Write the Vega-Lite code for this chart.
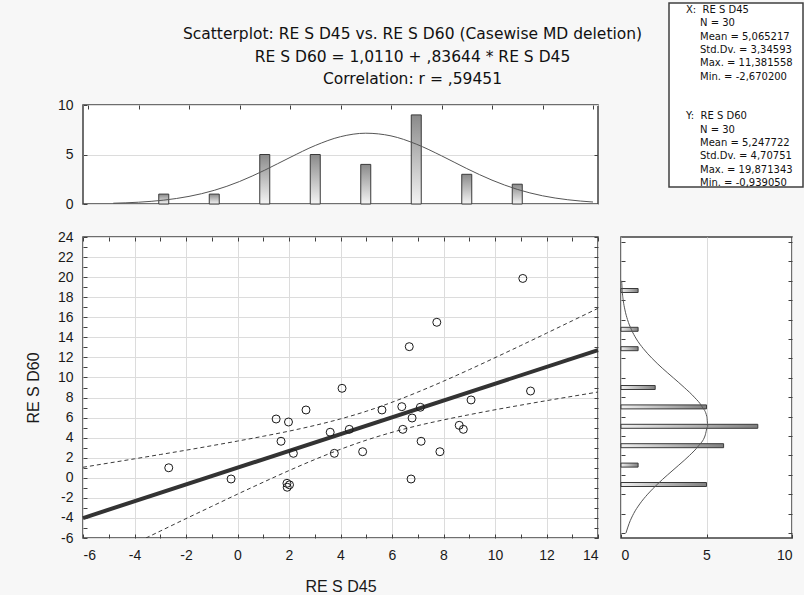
{
  "$schema": "https://vega.github.io/schema/vega-lite/v6.json",
  "background": "#f7f7f7",
  "padding": {"left": 24, "top": 2, "right": 0, "bottom": 0},
  "config": {
    "view": {"stroke": "#404040", "strokeWidth": 1.5, "fill": "white"},
    "font": "Liberation Sans",
    "axis": {"domain": false, "labelFont": "Liberation Sans", "labelFontSize": 14, "labelColor": "#1a1a1a", "titleFont": "Liberation Sans", "titleFontSize": 16, "titleFontWeight": "normal", "titleColor": "#1a1a1a", "tickColor": "#404040", "gridColor": "#dcdcdc", "gridWidth": 1}
  },
  "datasets": {
    "ttl": [
      {"line": 0, "t": "Scatterplot: RE S D45 vs. RE S D60 (Casewise MD deletion)"},
      {"line": 1, "t": "RE S D60 = 1,0110 + ,83644 * RE S D45"},
      {"line": 2, "t": "Correlation: r = ,59451"}
    ],
    "pts": [
      {"x": -2.67, "y": 1.00}, {"x": -0.25, "y": -0.12}, {"x": 1.50, "y": 5.86}, {"x": 1.69, "y": 3.64},
      {"x": 1.92, "y": -0.55}, {"x": 1.93, "y": -0.94}, {"x": 1.98, "y": 5.56}, {"x": 2.02, "y": -0.70},
      {"x": 2.17, "y": 2.44}, {"x": 2.66, "y": 6.76}, {"x": 3.60, "y": 4.54}, {"x": 3.76, "y": 2.44},
      {"x": 4.06, "y": 8.92}, {"x": 4.34, "y": 4.83}, {"x": 4.86, "y": 2.60}, {"x": 5.61, "y": 6.76},
      {"x": 6.38, "y": 7.09}, {"x": 6.42, "y": 4.83}, {"x": 6.67, "y": 13.07}, {"x": 6.74, "y": -0.12},
      {"x": 6.78, "y": 5.96}, {"x": 7.10, "y": 7.03}, {"x": 7.13, "y": 3.64}, {"x": 7.74, "y": 15.50},
      {"x": 7.86, "y": 2.60}, {"x": 8.61, "y": 5.23}, {"x": 8.77, "y": 4.83}, {"x": 9.07, "y": 7.76},
      {"x": 11.08, "y": 19.87}, {"x": 11.38, "y": 8.65}
    ],
    "reg": [{"x": -6, "y": -4.01}, {"x": 14, "y": 12.72}],
    "band": [
      {"x": -6, "lo": -9.06, "hi": 1.05}, {"x": -5, "lo": -7.81, "hi": 1.47}, {"x": -4, "lo": -6.56, "hi": 1.89},
      {"x": -3, "lo": -5.31, "hi": 2.32}, {"x": -2, "lo": -4.07, "hi": 2.75}, {"x": -1, "lo": -2.85, "hi": 3.20},
      {"x": 0, "lo": -1.63, "hi": 3.66}, {"x": 1, "lo": -0.44, "hi": 4.14}, {"x": 2, "lo": 0.72, "hi": 4.65},
      {"x": 3, "lo": 1.82, "hi": 5.22}, {"x": 4, "lo": 2.84, "hi": 5.87}, {"x": 5, "lo": 3.75, "hi": 6.63},
      {"x": 6, "lo": 4.53, "hi": 7.53}, {"x": 7, "lo": 5.20, "hi": 8.54}, {"x": 8, "lo": 5.77, "hi": 9.63},
      {"x": 9, "lo": 6.29, "hi": 10.78}, {"x": 10, "lo": 6.78, "hi": 11.97}, {"x": 11, "lo": 7.24, "hi": 13.18},
      {"x": 12, "lo": 7.69, "hi": 14.41}, {"x": 13, "lo": 8.12, "hi": 15.65}, {"x": 14, "lo": 8.55, "hi": 16.89}
    ],
    "hx": [
      {"mid": -3, "count": 1}, {"mid": -1, "count": 1}, {"mid": 1, "count": 5}, {"mid": 3, "count": 5},
      {"mid": 5, "count": 4}, {"mid": 7, "count": 9}, {"mid": 9, "count": 3}, {"mid": 11, "count": 2}
    ],
    "nx": [
      {"x": -5, "d": 0.08}, {"x": -4, "d": 0.18}, {"x": -3, "d": 0.39}, {"x": -2, "d": 0.77}, {"x": -1, "d": 1.38},
      {"x": 0, "d": 2.27}, {"x": 1, "d": 3.42}, {"x": 2, "d": 4.70}, {"x": 3, "d": 5.91}, {"x": 4, "d": 6.80},
      {"x": 5, "d": 7.15}, {"x": 6, "d": 6.88}, {"x": 7, "d": 6.05}, {"x": 8, "d": 4.87}, {"x": 9, "d": 3.58},
      {"x": 10, "d": 2.41}, {"x": 11, "d": 1.48}, {"x": 12, "d": 0.83}, {"x": 13, "d": 0.43}, {"x": 14, "d": 0.20}
    ],
    "hy": [
      {"mid": 19, "count": 1}, {"mid": 15, "count": 1}, {"mid": 13, "count": 1}, {"mid": 9, "count": 2},
      {"mid": 7, "count": 5}, {"mid": 5, "count": 8}, {"mid": 3, "count": 6}, {"mid": 1, "count": 1}, {"mid": -1, "count": 5}
    ],
    "ny": [
      {"y": -6, "d": 0.29}, {"y": -5, "d": 0.48}, {"y": -4, "d": 0.74}, {"y": -3, "d": 1.10}, {"y": -2, "d": 1.56},
      {"y": -1, "d": 2.11}, {"y": 0, "d": 2.73}, {"y": 1, "d": 3.38}, {"y": 2, "d": 4.01}, {"y": 3, "d": 4.54},
      {"y": 4, "d": 4.91}, {"y": 5, "d": 5.08}, {"y": 6, "d": 5.02}, {"y": 7, "d": 4.75}, {"y": 8, "d": 4.29},
      {"y": 9, "d": 3.70}, {"y": 10, "d": 3.06}, {"y": 11, "d": 2.41}, {"y": 12, "d": 1.82}, {"y": 13, "d": 1.31},
      {"y": 14, "d": 0.90}, {"y": 15, "d": 0.60}, {"y": 16, "d": 0.38}, {"y": 17, "d": 0.23}, {"y": 18, "d": 0.13},
      {"y": 19, "d": 0.07}, {"y": 20, "d": 0.04}
    ],
    "stats": [
      {"row": 0, "indent": 0, "t": "X:\u00a0\u00a0RE S D45"},
      {"row": 1, "indent": 1, "t": "N = 30"},
      {"row": 2, "indent": 1, "t": "Mean = 5,065217"},
      {"row": 3, "indent": 1, "t": "Std.Dv. = 3,34593"},
      {"row": 4, "indent": 1, "t": "Max. = 11,381558"},
      {"row": 5, "indent": 1, "t": "Min. = -2,670200"},
      {"row": 8, "indent": 0, "t": "Y:\u00a0\u00a0RE S D60"},
      {"row": 9, "indent": 1, "t": "N = 30"},
      {"row": 10, "indent": 1, "t": "Mean = 5,247722"},
      {"row": 11, "indent": 1, "t": "Std.Dv. = 4,70751"},
      {"row": 12, "indent": 1, "t": "Max. = 19,871343"},
      {"row": 13, "indent": 1, "t": "Min. = -0,939050"}
    ]
  },
  "spacing": 17,
  "vconcat": [
    {
      "spacing": 25,
      "hconcat": [
        {
          "spacing": 4,
          "vconcat": [
            {
              "width": 515,
              "height": 90,
              "view": {"stroke": null, "fill": null},
              "data": {"name": "ttl"},
              "mark": {"type": "text", "align": "center", "baseline": "middle", "font": "DejaVu Sans", "fontSize": 15.5, "color": "#111111", "dx": 72},
              "encoding": {
                "y": {"field": "line", "type": "quantitative", "scale": {"domain": [-1.378, 2.622], "nice": false, "zero": false, "reverse": true}, "axis": null},
                "text": {"field": "t"}
              }
            },
            {
              "width": 515,
              "height": 99,
              "layer": [
                {
                  "data": {"name": "hx"},
                  "mark": {"type": "bar", "orient": "vertical", "size": 10, "stroke": "#3a3a3a", "strokeWidth": 1,
                    "fill": {"gradient": "linear", "x1": 0, "y1": 1, "x2": 0, "y2": 0, "stops": [{"offset": 0, "color": "#f4f4f4"}, {"offset": 1, "color": "#8a8a8a"}]}},
                  "encoding": {
                    "x": {"field": "mid", "type": "quantitative", "scale": {"domain": [-6, 14], "nice": false, "zero": false},
                      "axis": {"orient": "top", "values": [-6, -4, -2, 0, 2, 4, 6, 8, 10, 12, 14], "labels": false, "tickSize": -4, "grid": false, "title": null}},
                    "y": {"field": "count", "type": "quantitative", "scale": {"domain": [0, 10], "nice": false},
                      "axis": {"orient": "left", "values": [0, 5, 10], "tickSize": -4, "labelPadding": 14, "grid": true, "title": "RE S D60", "titleColor": "transparent", "minExtent": 30, "maxExtent": 30, "titlePadding": 12}}
                  }
                },
                {
                  "data": {"name": "nx"},
                  "mark": {"type": "line", "interpolate": "monotone", "stroke": "#555555", "strokeWidth": 1},
                  "encoding": {
                    "x": {"field": "x", "type": "quantitative", "axis": null},
                    "y": {"field": "d", "type": "quantitative", "axis": {"orient": "right", "values": [5], "labels": false, "tickSize": -4, "grid": false, "title": null}}
                  }
                }
              ],
              "resolve": {"axis": {"x": "independent", "y": "independent"}}
            }
          ]
        },
        {
          "width": 134,
          "height": 184,
          "data": {"name": "stats"},
          "mark": {"type": "text", "align": "left", "baseline": "middle", "font": "DejaVu Sans", "fontSize": 10, "color": "#111111"},
          "encoding": {
            "x": {"field": "indent", "type": "quantitative", "scale": {"domain": [0, 1], "range": [17, 31]}, "axis": null},
            "y": {"field": "row", "type": "quantitative", "scale": {"domain": [-0.53, 13.3], "nice": false, "zero": false, "reverse": true}, "axis": null},
            "text": {"field": "t"}
          }
        }
      ]
    },
    {
      "spacing": 11,
      "hconcat": [
        {
          "width": 515,
          "height": 301,
          "layer": [
            {
              "data": {"name": "band"},
              "mark": {"type": "line", "clip": true, "interpolate": "monotone", "stroke": "#3a3a3a", "strokeWidth": 1, "strokeDash": [4, 3]},
              "encoding": {
                "x": {"field": "x", "type": "quantitative", "scale": {"domain": [-6, 14], "nice": false, "zero": false}, "axis": null},
                "y": {"field": "hi", "type": "quantitative", "scale": {"domain": [-6, 24], "nice": false, "zero": false}, "axis": null}
              }
            },
            {
              "data": {"name": "band"},
              "mark": {"type": "line", "clip": true, "interpolate": "monotone", "stroke": "#3a3a3a", "strokeWidth": 1, "strokeDash": [4, 3]},
              "encoding": {
                "x": {"field": "x", "type": "quantitative", "axis": null},
                "y": {"field": "lo", "type": "quantitative", "axis": null}
              }
            },
            {
              "data": {"name": "reg"},
              "mark": {"type": "line", "stroke": "#333333", "strokeWidth": 4},
              "encoding": {
                "x": {"field": "x", "type": "quantitative",
                  "axis": {"orient": "top", "values": [-6, -5, -4, -3, -2, -1, 0, 1, 2, 3, 4, 5, 6, 7, 8, 9, 10, 11, 12, 13, 14], "labels": false, "tickSize": -4, "grid": false, "title": null}},
                "y": {"field": "y", "type": "quantitative",
                  "axis": {"orient": "right", "values": [-6, -5, -4, -3, -2, -1, 0, 1, 2, 3, 4, 5, 6, 7, 8, 9, 10, 11, 12, 13, 14, 15, 16, 17, 18, 19, 20, 21, 22, 23, 24], "labels": false, "tickSize": -4, "grid": false, "title": null}}
              }
            },
            {
              "data": {"name": "pts"},
              "mark": {"type": "point", "shape": "circle", "filled": false, "size": 64, "stroke": "#1a1a1a", "strokeWidth": 1, "opacity": 1},
              "encoding": {
                "x": {"field": "x", "type": "quantitative",
                  "axis": {"orient": "bottom", "values": [-6, -5, -4, -3, -2, -1, 0, 1, 2, 3, 4, 5, 6, 7, 8, 9, 10, 11, 12, 13, 14],
                    "labelExpr": "datum.value % 2 === 0 ? '' + datum.value : ''", "tickSize": -4, "labelPadding": 14,
                    "grid": true, "gridOpacity": {"condition": {"test": "datum.value % 2 !== 0", "value": 0}, "value": 1},
                    "title": "RE S D45", "titlePadding": 16}},
                "y": {"field": "y", "type": "quantitative",
                  "axis": {"orient": "left", "values": [-6, -5, -4, -3, -2, -1, 0, 1, 2, 3, 4, 5, 6, 7, 8, 9, 10, 11, 12, 13, 14, 15, 16, 17, 18, 19, 20, 21, 22, 23, 24],
                    "labelExpr": "datum.value % 2 === 0 ? '' + datum.value : ''", "tickSize": -4, "labelPadding": 14,
                    "grid": true, "gridOpacity": {"condition": {"test": "datum.value % 2 !== 0", "value": 0}, "value": 1},
                    "title": "RE S D60", "minExtent": 30, "maxExtent": 30, "titlePadding": 12}}
              }
            }
          ],
          "resolve": {"axis": {"x": "independent", "y": "independent"}}
        },
        {
          "width": 171,
          "height": 301,
          "layer": [
            {
              "data": {"name": "hy"},
              "mark": {"type": "bar", "orient": "horizontal", "size": 4, "stroke": "#3a3a3a", "strokeWidth": 1,
                "fill": {"gradient": "linear", "x1": 0, "y1": 0, "x2": 1, "y2": 0, "stops": [{"offset": 0, "color": "#f0f0f0"}, {"offset": 1, "color": "#808080"}]}},
              "encoding": {
                "y": {"field": "mid", "type": "quantitative", "scale": {"domain": [-6, 24], "nice": false, "zero": false},
                  "axis": {"orient": "left", "values": [-6, -4, -2, 0, 2, 4, 6, 8, 10, 12, 14, 16, 18, 20, 22, 24], "labels": false, "tickSize": -4, "grid": false, "title": null}},
                "x": {"field": "count", "type": "quantitative", "scale": {"domain": [0, 10], "nice": false},
                  "axis": {"orient": "bottom", "values": [0, 5, 10], "tickSize": -4, "labelPadding": 14, "grid": true, "title": null}}
              }
            },
            {
              "data": {"name": "ny"},
              "mark": {"type": "line", "interpolate": "monotone", "stroke": "#555555", "strokeWidth": 1},
              "encoding": {
                "x": {"field": "d", "type": "quantitative", "axis": null},
                "y": {"field": "y", "type": "quantitative",
                  "axis": {"orient": "right", "values": [-6, -4, -2, 0, 2, 4, 6, 8, 10, 12, 14, 16, 18, 20, 22, 24], "labels": true, "labelExpr": "datum.value === 24 ? '24' : ''", "labelColor": "transparent", "labelAlign": "right", "tickSize": -4, "labelPadding": -10, "grid": false, "title": null}},
                "order": {"field": "y", "type": "quantitative"}
              }
            }
          ],
          "resolve": {"axis": {"x": "independent", "y": "independent"}}
        }
      ]
    }
  ]
}
